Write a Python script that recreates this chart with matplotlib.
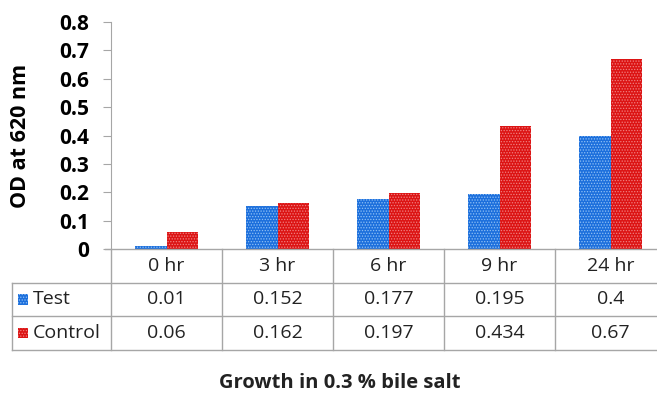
import matplotlib.pyplot as plt
from matplotlib.patches import Rectangle

categories = ["0 hr", "3 hr", "6 hr", "9 hr", "24 hr"]
test_vals = [0.01, 0.152, 0.177, 0.195, 0.4]
control_vals = [0.06, 0.162, 0.197, 0.434, 0.67]
series_names = ["Test", "Control"]
yticks = [0, 0.1, 0.2, 0.3, 0.4, 0.5, 0.6, 0.7, 0.8]

BLUE = "#1c6fdc"
RED = "#dc1414"
GRID = "#a6a6a6"
FONT = "Open Sans"

plt.rcParams["font.family"] = [FONT, "DejaVu Sans"]
plt.rcParams["hatch.linewidth"] = 0.6

W, H = 657, 395
fig = plt.figure(figsize=(W / 100, H / 100), dpi=100)


def px_box(x0, y0, x1, y1):
    # pixel box (top-left origin) -> figure fraction rect
    return [x0 / W, 1 - y1 / H, (x1 - x0) / W, (y1 - y0) / H]


ax = fig.add_axes(px_box(111, 22, 666, 249))
x = list(range(len(categories)))
bw = 0.285
ax.bar([i - bw / 2 for i in x], test_vals, bw, color=BLUE, edgecolor="#8fc0f5",
       linewidth=0, hatch="......")
ax.bar([i + bw / 2 for i in x], control_vals, bw, color=RED, edgecolor="#f08080",
       linewidth=0, hatch="......")
ax.set_xlim(-0.5, len(categories) - 0.5)
ax.set_ylim(0, 0.8)
ax.set_yticks(yticks)
ax.set_yticklabels([f"{v:g}" for v in yticks], fontsize=15, fontweight="bold")
ax.set_xticks([])
for s in ["top", "right", "bottom"]:
    ax.spines[s].set_visible(False)
ax.spines["left"].set_color(GRID)
ax.tick_params(axis="y", direction="out", length=6, color=GRID, pad=10)
ax.set_ylabel("OD at 620 nm", fontsize=15.5, fontweight="bold")
ax.yaxis.set_label_coords(-0.145, 0.5)

# data table under the plot
left = -0.5 - (111 - 12) / 111
tab = fig.add_axes(px_box(12, 249, 666, 350))
tab.set_xlim(left, len(categories) - 0.5)
tab.set_ylim(3, 0)
tab.axis("off")
lw = 1.0
tab.plot([-0.5 - 6 / 111, len(categories) - 0.5], [0, 0], color=GRID, lw=lw, clip_on=False)
for r in [1, 2, 3]:
    tab.plot([left, len(categories) - 0.5], [r, r], color=GRID, lw=lw, clip_on=False)
for b in range(len(categories) + 1):
    tab.plot([b - 0.5, b - 0.5], [0, 3], color=GRID, lw=lw, clip_on=False)
tab.plot([left, left], [1, 3], color=GRID, lw=lw, clip_on=False)

fs = 14
for i, c in enumerate(categories):
    tab.text(i, 0.5, c, ha="center", va="center", fontsize=fs, color="#222222")
    tab.text(i, 1.5, f"{test_vals[i]:g}", ha="center", va="center", fontsize=fs, color="#222222")
    tab.text(i, 2.5, f"{control_vals[i]:g}", ha="center", va="center", fontsize=fs, color="#222222")

key_w = 10 / 111
for r, (name, col, hc) in enumerate(zip(series_names, [BLUE, RED], ["#8fc0f5", "#f08080"])):
    tab.add_patch(Rectangle((left + 6 / 111, r + 1.5 - 0.15), key_w, 0.3,
                            facecolor=col, edgecolor=hc, linewidth=0, hatch="......"))
    tab.text(left + 21 / 111, r + 1.5, name, ha="left", va="center", fontsize=fs,
             color="#222222")

fig.text(340 / W, 1 - 383 / H, "Growth in 0.3 % bile salt", ha="center", va="center",
         fontsize=14.5, fontweight="bold", color="#222222")

fig.savefig("out.png", dpi=100)
